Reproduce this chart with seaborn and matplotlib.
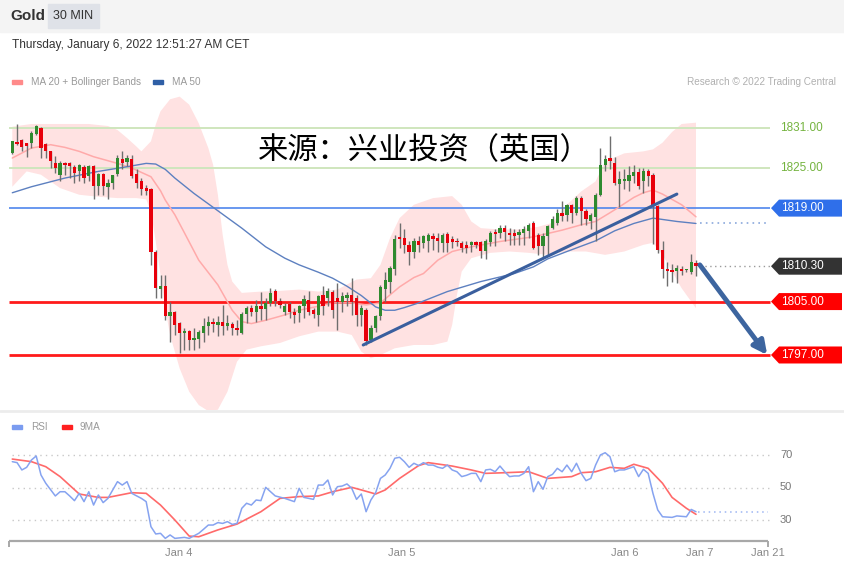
import numpy as np
import matplotlib
matplotlib.use("Agg")
import matplotlib.pyplot as plt
import seaborn as sns
from matplotlib.patches import Rectangle, Polygon, FancyArrowPatch
from matplotlib.transforms import blended_transform_factory

# ---------------- data (30-min candles, index 0..143) ----------------
opens = [1827.2,1828.9,1829.2,1828.7,1828.8,1830.1,1831.0,1828.6,1827.5,1825.8,
         1824.0,1825.8,1825.8,1825.1,1824.5,1825.1,1823.8,1825.3,1822.3,1824.1,
         1822.1,1822.8,1824.1,1826.3,1825.9,1826.4,1824.1,1823.0,1822.0,1821.8,
         1812.5,1806.9,1807.3,1802.8,1803.5,1801.8,1800.3,1800.6,1799.3,1799.4,
         1800.3,1801.4,1801.9,1801.5,1802.0,1801.4,1801.7,1801.0,1800.3,1803.1,
         1804.1,1803.5,1804.3,1803.9,1804.8,1806.6,1805.1,1803.5,1804.6,1803.5,
         1803.3,1804.3,1805.3,1803.8,1803.0,1806.0,1805.5,1806.5,1805.5,1805.0,
         1805.5,1806.0,1805.5,1803.0,1803.8,1799.3,1801.0,1802.8,1806.9,1808.0,
         1809.9,1814.6,1814.5,1813.5,1812.4,1814.1,1813.8,1814.1,1814.8,1814.5,
         1813.8,1815.1,1814.3,1814.1,1813.8,1813.5,1813.4,1813.9,1813.9,1812.6,
         1813.9,1815.4,1815.2,1816.0,1815.3,1815.3,1814.9,1815.3,1815.6,1816.8,
         1814.9,1813.3,1814.8,1816.0,1816.8,1818.3,1818.0,1819.4,1818.3,1820.5,
         1818.5,1817.1,1817.6,1821.0,1825.4,1826.5,1825.8,1822.6,1823.1,1823.0,
         1823.8,1824.4,1823.0,1824.5,1823.9,1819.3,1812.8,1809.9,1809.8,1809.6,
         1809.9,1809.7,1809.5,1810.8]
highs = [1829.1,1831.6,1829.4,1828.8,1830.5,1831.5,1831.1,1828.8,1827.6,1826.8,
         1826.0,1825.9,1825.9,1825.4,1825.6,1825.5,1825.4,1825.5,1824.3,1824.3,
         1823.3,1824.0,1827.0,1827.5,1827.0,1827.0,1824.8,1823.5,1822.4,1822.0,
         1812.8,1809.0,1809.0,1805.0,1803.6,1802.0,1801.0,1800.8,1801.0,1800.8,
         1802.5,1802.8,1802.5,1802.8,1804.5,1803.0,1802.0,1802.3,1803.5,1804.4,
         1804.5,1805.3,1806.5,1805.6,1807.0,1806.9,1805.5,1804.8,1805.0,1804.0,
         1804.5,1806.0,1806.6,1804.1,1806.0,1807.3,1807.0,1806.8,1807.8,1806.5,
         1806.4,1808.6,1806.0,1804.5,1804.0,1801.5,1803.0,1807.5,1809.5,1810.3,
         1814.9,1816.8,1815.8,1814.0,1814.5,1814.8,1815.0,1815.3,1815.3,1815.3,
         1815.3,1815.4,1814.8,1814.5,1814.0,1814.0,1814.1,1814.1,1814.1,1814.3,
         1815.5,1815.8,1816.4,1816.4,1816.0,1815.8,1815.8,1816.3,1816.8,1817.0,
         1815.3,1815.3,1816.5,1817.8,1818.8,1820.0,1819.6,1819.6,1820.8,1820.8,
         1818.8,1818.3,1821.3,1828.0,1827.0,1829.8,1826.6,1824.5,1824.8,1825.3,
         1825.5,1825.0,1825.0,1824.8,1824.3,1819.5,1814.0,1811.0,1810.6,1810.5,
         1810.3,1809.9,1812.1,1811.3]
lows = [1827.1,1828.4,1827.6,1826.7,1828.0,1830.0,1826.5,1826.5,1825.0,1824.3,
        1823.1,1824.0,1823.5,1822.8,1823.0,1822.8,1823.0,1820.3,1821.0,1821.0,
        1820.4,1821.8,1823.8,1824.8,1825.3,1823.5,1822.0,1821.0,1821.0,1810.5,
        1805.5,1805.5,1802.3,1799.0,1800.0,1797.3,1797.8,1797.8,1797.8,1798.0,
        1799.0,1800.0,1800.5,1799.8,1800.0,1800.8,1800.0,1800.0,1800.1,1801.8,
        1802.8,1802.0,1802.3,1802.3,1804.3,1804.4,1804.0,1803.0,1802.6,1801.8,
        1802.0,1802.5,1803.0,1802.5,1801.4,1803.0,1804.3,1802.5,1800.8,1803.5,
        1804.3,1803.0,1801.4,1801.3,1798.5,1799.0,1800.5,1802.3,1805.0,1806.3,
        1809.0,1813.0,1812.3,1810.5,1811.5,1812.5,1813.0,1812.5,1812.8,1812.5,
        1812.5,1812.5,1813.0,1813.3,1812.5,1812.3,1812.5,1813.0,1811.5,1811.4,
        1813.3,1813.3,1814.5,1814.0,1813.5,1813.5,1813.4,1813.5,1814.5,1812.9,
        1812.0,1811.5,1811.8,1815.8,1816.5,1817.0,1817.0,1816.8,1818.0,1816.5,
        1816.5,1815.8,1814.0,1820.8,1824.5,1824.8,1822.5,1819.1,1821.8,1821.6,
        1822.8,1821.8,1821.3,1822.3,1813.6,1812.3,1808.6,1807.3,1808.0,1807.8,
        1809.0,1809.5,1809.1,1808.8]
closes = [1829.0,1828.6,1828.1,1828.3,1830.3,1831.3,1828.0,1827.5,1826.0,1825.0,
          1825.8,1825.5,1825.3,1824.3,1825.5,1823.5,1825.3,1822.3,1824.1,1822.3,
          1822.8,1823.9,1826.5,1825.8,1826.5,1823.8,1822.8,1821.9,1821.5,1812.5,
          1807.0,1807.4,1802.8,1803.5,1801.5,1800.3,1800.6,1799.3,1799.6,1800.4,
          1801.3,1801.9,1801.7,1802.0,1801.4,1801.8,1801.0,1800.8,1803.1,1804.1,
          1803.4,1804.4,1803.9,1804.8,1806.3,1805.1,1804.5,1804.3,1803.5,1803.0,
          1804.3,1805.4,1803.5,1803.1,1805.8,1804.4,1806.6,1803.8,1805.0,1805.8,
          1806.0,1805.0,1803.0,1804.0,1799.1,1801.0,1802.8,1807.2,1808.2,1810.0,
          1814.4,1814.3,1813.5,1812.4,1814.1,1813.5,1814.8,1814.9,1814.3,1814.0,
          1814.9,1813.8,1813.9,1813.9,1813.1,1813.1,1813.9,1813.5,1812.6,1814.0,
          1815.3,1815.1,1816.0,1815.4,1814.9,1814.8,1815.4,1815.8,1816.5,1813.1,
          1813.3,1814.8,1816.3,1817.3,1818.3,1817.8,1819.4,1818.3,1820.5,1818.5,
          1817.3,1818.0,1821.0,1825.5,1826.4,1826.1,1822.8,1823.3,1823.4,1823.9,
          1824.4,1822.3,1824.6,1823.8,1819.3,1812.8,1809.9,1809.6,1809.5,1810.0,
          1809.6,1809.7,1810.9,1810.3]

ma20_idx = [0,4,8,11,14,17,22,25,29,31,32,34,36,39,43,46,48,50,53,57,60,64,67,71,74,
            77,79,81,84,86,89,92,96,102,109,115,119,122,125,127,130,132,134,136,138,140,143]
ma20 = [1826.5,1828.0,1828.5,1828.1,1827.5,1826.7,1825.7,1825.0,1823.7,1821.6,1820.2,
        1818.0,1815.3,1811.2,1807.5,1803.7,1802.0,1801.7,1802.2,1803.0,1803.7,1804.3,
        1804.8,1804.8,1804.5,1804.8,1806.0,1807.2,1808.6,1809.2,1811.2,1812.5,1813.2,
        1814.0,1814.7,1815.7,1816.5,1817.0,1818.3,1819.2,1820.6,1821.3,1821.7,1821.1,
        1820.3,1819.5,1817.7]

ma50_idx = [0,4,11,18,24,28,30,32,34,38,43,48,53,57,60,64,67,70,73,76,78,80,82,85,
            91,98,105,109,112,116,119,122,126,130,134,136,139,143]
ma50 = [1821.3,1822.2,1823.5,1824.5,1825.2,1825.7,1825.6,1824.8,1823.5,1821.2,1818.6,
        1816.0,1813.2,1811.5,1810.5,1809.4,1808.5,1807.3,1805.9,1804.2,1803.7,1803.7,
        1804.1,1804.8,1806.5,1808.0,1809.2,1810.2,1811.4,1812.5,1813.3,1814.1,1815.6,
        1816.7,1817.5,1817.3,1817.0,1816.7]

bb_up_idx = [0,4,10,16,20,22,24,26,27,29,30,31,33,35,37,39,41,42,43,44,45,46,48,52,
             56,60,64,68,72,75,77,79,81,84,88,92,94,96,98,102,106,110,113,116,119,
             122,124,128,132,134,136,138,140,143]
bb_up = [1831.2,1831.6,1831.6,1831.6,1831.3,1830.7,1829.5,1828.2,1827.5,1829.0,
         1831.5,1833.5,1835.3,1835.7,1834.5,1831.7,1828.0,1825.5,1821.0,1815.0,
         1810.5,1808.0,1806.3,1806.5,1806.6,1806.8,1806.5,1806.8,1808.3,1808.5,
         1810.5,1814.5,1817.5,1819.5,1820.5,1820.8,1819.5,1817.0,1816.0,1815.8,
         1815.8,1816.2,1816.8,1819.5,1821.5,1823.0,1826.0,1827.2,1827.5,1827.8,
         1828.8,1830.4,1831.6,1831.8]

bb_lo_idx = [0,3,6,10,14,18,22,26,28,29,30,31,32,33,35,37,39,41,43,45,47,49,52,56,
             60,64,68,71,73,75,77,80,84,88,91,92,93,94,96,100,104,108,112,116,120,
             124,128,132,134,136,138,140,143]
bb_lo = [1822.2,1824.5,1824.0,1822.0,1821.0,1820.7,1820.5,1820.5,1820.3,1818.5,
         1814.0,1809.0,1804.0,1800.0,1795.0,1791.5,1789.5,1788.6,1788.8,1791.5,
         1796.0,1797.8,1798.3,1798.8,1799.8,1800.5,1800.5,1800.0,1797.5,1796.5,
         1797.0,1798.0,1798.5,1798.5,1799.0,1801.5,1806.0,1809.5,1811.5,1812.3,
         1812.5,1812.3,1812.0,1812.5,1812.5,1812.0,1812.5,1813.5,1813.8,1812.0,
         1809.5,1807.0,1804.0]

rsi_idx = [0,1,2,3,4,5,6,7,9,10,11,12,13,14,15,16,17,18,19,20,22,23,24,25,27,28,29,30,
           31,32,33,34,36,37,39,40,41,42,43,44,45,46,47,48,49,50,51,52,53,55,57,59,60,
           61,63,64,65,66,67,68,69,70,71,72,73,74,75,76,77,78,79,80,81,82,83,84,85,86,
           87,88,89,90,91,92,93,94,95,96,97,98,99,100,101,102,103,104,105,106,107,108,
           109,110,111,112,113,114,115,116,117,118,119,120,121,122,123,124,125,126,127,
           128,130,131,132,133,134,135,136,138,139,141,142,143]
rsi = [65.9,65.3,60.8,62.4,66.9,69.4,57.7,52.6,44.8,47.4,47.4,44.8,41.9,46.4,41.3,47.4,
       39.2,45.4,40.7,43.3,53.6,51.5,53.6,46.4,43.3,41.3,25.9,21.4,21.8,18.7,20.8,18.7,
       19.3,18.7,21.8,24.3,26.9,26.9,28.4,27.9,29.0,27.3,27.9,37.2,40.3,39.2,42.3,41.9,
       50.1,44.8,43.3,41.3,49.5,43.9,42.7,51.5,51.5,54.6,45.4,50.5,50.9,52.2,49.5,42.7,
       46.0,35.1,42.3,46.8,55.6,57.7,61.8,68.0,68.6,65.9,62.4,64.9,63.5,65.3,63.8,63.8,
       62.5,61.8,63.8,60.8,59.7,56.7,57.5,58.7,58.7,53.6,60.8,61.2,59.7,63.2,59.7,56.7,
       57.1,57.1,58.7,62.8,47.4,53.6,48.9,56.7,58.1,61.8,59.7,63.8,59.7,64.9,58.7,54.2,
       55.6,63.8,70.0,71.4,69.0,59.7,60.8,60.8,62.8,56.7,61.2,58.7,46.4,36.2,32.0,31.6,
       32.5,32.0,36.5,35.1]

ma9_idx = [0,4,7,10,14,18,20,25,28,31,34,37,39,43,47,52,56,60,64,67,71,73,76,78,81,85,
           87,92,96,99,103,108,112,117,119,122,125,128,130,133,136,138,141,143]
ma9 = [67.5,65.9,62.8,56.7,46.0,43.9,43.9,46.8,46.4,39.2,30.0,20.1,19.7,23.9,27.5,35.1,
       43.3,44.4,44.8,47.4,50.1,48.5,46.0,48.5,55.6,63.5,65.3,63.2,60.8,58.7,59.1,59.7,
       55.6,56.7,59.1,59.7,62.4,61.8,64.3,61.8,52.6,43.9,37.2,33.5]

levels_green = [1831.0, 1825.0]
level_blue = 1819.0
levels_red = [1805.0, 1797.0]
last_price = 1810.30
trend_start = (73.4, 1798.5)
trend_end = (139.0, 1821.1)
arrow_start = (143.8, 1810.5)
arrow_end = (157.9, 1797.0)
day_ticks = [34.7, 81.5, 128.1, 143.8, 158.0]
day_labels = ["Jan 4", "Jan 5", "Jan 6", "Jan 7", "Jan 21"]
rsi_levels = [70, 50, 30]

# ---------------- style ----------------
sns.set_theme(style="white")
plt.rcParams['font.family'] = ['Liberation Sans', 'DejaVu Sans']

W, H = 844, 569
fig = plt.figure(figsize=(W / 100, H / 100), dpi=100)
fig.patch.set_facecolor('white')

X0, SP = 12.3, 4.781
def ix(px):
    return (px - X0) / SP
XL = (ix(0), ix(W))

GREEN_C, RED_C = '#2f8a2f', '#e8000b'

# ---------------- main price panel ----------------
P_REF, Y_REF, PPX = 1831.0, 128.0, 6.676
def py(pxy):
    return P_REF - (pxy - Y_REF) / PPX
top_px, bot_px = 88, 410
ax = fig.add_axes([0, 1 - bot_px / H, 1, (bot_px - top_px) / H])
ax.set_xlim(*XL)
ax.set_ylim(py(bot_px), py(top_px))
ax.axis('off')

# bollinger band
poly_x = np.r_[bb_up_idx, bb_lo_idx[::-1]]
poly_y = np.r_[bb_up, bb_lo[::-1]]
ax.fill(poly_x, poly_y, color='#ffe2e2', lw=0, zorder=1)

# level lines
for lv in levels_green:
    ax.hlines(lv, ix(9), ix(770), color='#cfe6bd', lw=1.4, zorder=2)
ax.hlines(level_blue, ix(9), ix(770), color='#4f86ec', lw=1.2, zorder=2)
for lv in levels_red:
    ax.hlines(lv, ix(9), ix(770), color='#ff1a1a', lw=2.0, zorder=2)

# moving averages
sns.lineplot(x=ma20_idx, y=ma20, ax=ax, color='#ffaaaa', lw=1.1, zorder=3, legend=False)
sns.lineplot(x=ma50_idx, y=ma50, ax=ax, color='#5d80c0', lw=1.0, zorder=3, legend=False)
ax.hlines(ma50[-1], ma50_idx[-1] + 0.8, ix(770), color='#8aa8dc', lw=1.2,
          linestyles=(0, (1, 2.5)), zorder=3)

# candles
idx = np.arange(len(closes))
o, h, l, c = map(np.array, (opens, highs, lows, closes))
up = c >= o
ax.vlines(idx, l, h, color='#6e6e6e', lw=1.0, zorder=4)
body_b = np.minimum(o, c)
body_h = np.maximum(np.abs(c - o), 0.18)
ax.bar(idx, body_h, bottom=body_b, width=0.68,
       color=np.where(up, GREEN_C, RED_C), lw=0, zorder=5)

# trendline and arrow
ax.plot([trend_start[0], trend_end[0]], [trend_start[1], trend_end[1]],
        color='#3a5f9e', lw=2.2, zorder=6, solid_capstyle='round')
ax.add_patch(FancyArrowPatch(arrow_start, arrow_end, arrowstyle='-|>',
                             mutation_scale=20, lw=3.5, color='#3d659f', zorder=7,
                             shrinkA=0, shrinkB=0))

# current price dotted
ax.hlines(last_price, ix(700), ix(770), color='#9a9a9a', lw=1.0,
          linestyles=(0, (1, 2.5)), zorder=3)

# price tags
bt = blended_transform_factory(ax.transAxes, ax.transData)
def tag(val, color):
    hh = 8.5 / PPX
    xs = np.array([771, 779, 842, 842, 779]) / W
    ys = [val, val + hh, val + hh, val - hh, val - hh]
    ax.add_patch(Polygon(np.c_[xs, ys], closed=True, transform=bt, color=color,
                         lw=0, clip_on=False, zorder=8))
    ax.text(781 / W, val, f"{val:.2f}", transform=bt, color='white', fontsize=8.5,
            va='center', ha='left', zorder=9)

for lv in levels_green:
    ax.text(780 / W, lv, f"{lv:.2f}", transform=bt, color='#74b33f', fontsize=8.5,
            va='center', ha='left')
tag(level_blue, '#2f6fea')
tag(last_price, '#333333')
for lv in levels_red:
    tag(lv, '#ff0000')

# ---------------- RSI panel ----------------
R_REF, RY_REF, RPX = 70.0, 455.0, 1.625
def rv(pxy):
    return R_REF - (pxy - RY_REF) / RPX
rt, rb = 436, 541
ax2 = fig.add_axes([0, 1 - rb / H, 1, (rb - rt) / H])
ax2.set_xlim(*XL)
ax2.set_ylim(rv(rb), rv(rt))
ax2.axis('off')

for lv in rsi_levels:
    ax2.hlines(lv, ix(12), ix(770), color='#c8c8c8', lw=1.0, linestyles=(0, (1, 3)))
    ax2.text(ix(780), lv, f"{lv}", color='#777777', fontsize=8, va='center', ha='left')

sns.lineplot(x=ma9_idx, y=ma9, ax=ax2, color='#ff6a6a', lw=1.2, zorder=3, legend=False)
sns.lineplot(x=rsi_idx, y=rsi, ax=ax2, color='#86a3f0', lw=1.1, zorder=4, legend=False)
ax2.hlines(rsi[-1], rsi_idx[-1] + 0.5, ix(768), color='#9db5f2', lw=1.1,
           linestyles=(0, (1, 2.5)), zorder=3)

# bottom axis
ax2.hlines(rv(rb), ix(9), ix(768), color='#a8a8a8', lw=1.6, clip_on=False)
ax2.vlines([ix(9), ix(768)], rv(rb + 6), rv(rb), color='#a8a8a8', lw=1.4, clip_on=False)
for t, lab in zip(day_ticks, day_labels):
    ax2.text(t, rv(553), lab, color='#888888', fontsize=8, ha='center', va='center',
             clip_on=False)

# ---------------- header & legends ----------------
def fx(px):
    return px / W
def fy(pxy):
    return 1 - pxy / H

fig.patches.append(Rectangle((0, fy(32)), 1, 32 / H, transform=fig.transFigure,
                             color='#f4f4f4', zorder=0))
fig.patches.append(Rectangle((fx(48), fy(28)), 51 / W, 24 / H, transform=fig.transFigure,
                             color='#dfe2e8', zorder=1))
fig.text(fx(10), fy(16), "Gold", fontsize=11, fontweight='bold', color='#333333',
         va='center', ha='left')
fig.text(fx(73.5), fy(16), "30 MIN", fontsize=9, color='#333333', va='center', ha='center')
fig.text(fx(12), fy(45), "Thursday, January 6, 2022 12:51:27 AM CET", fontsize=8.6,
         color='#333333', va='center', ha='left')

fig.patches.append(Rectangle((fx(12), fy(84)), 10 / W, 4 / H, transform=fig.transFigure,
                             color='#ff8a8a'))
fig.text(fx(31), fy(82), "MA 20 + Bollinger Bands", fontsize=7.2, color='#999999',
         va='center', ha='left')
fig.patches.append(Rectangle((fx(153), fy(84)), 10 / W, 4 / H, transform=fig.transFigure,
                             color='#2f5fa6'))
fig.text(fx(172), fy(82), "MA 50", fontsize=7.2, color='#999999', va='center', ha='left')
fig.text(fx(836), fy(82), "Research © 2022 Trading Central", fontsize=7.2,
         color='#b0b0b0', va='center', ha='right')

fig.text(fx(258), fy(151), "来源：兴业投资（英国）", fontsize=21.8,
         family=['Noto Sans CJK SC', 'DejaVu Sans'], color='black', va='center', ha='left')

# separator between panels
fig.lines.append(plt.Line2D([0, 1], [fy(411), fy(411)], transform=fig.transFigure,
                            color='#ececec', lw=2))

fig.patches.append(Rectangle((fx(12), fy(429)), 10 / W, 4 / H, transform=fig.transFigure,
                             color='#7b9cf0'))
fig.text(fx(31), fy(427), "RSI", fontsize=7.2, color='#999999', va='center', ha='left')
fig.patches.append(Rectangle((fx(62), fy(429)), 10 / W, 4 / H, transform=fig.transFigure,
                             color='#ff2020'))
fig.text(fx(80), fy(427), "9MA", fontsize=7.2, color='#999999', va='center', ha='left')

fig.savefig("out.png", dpi=100)
